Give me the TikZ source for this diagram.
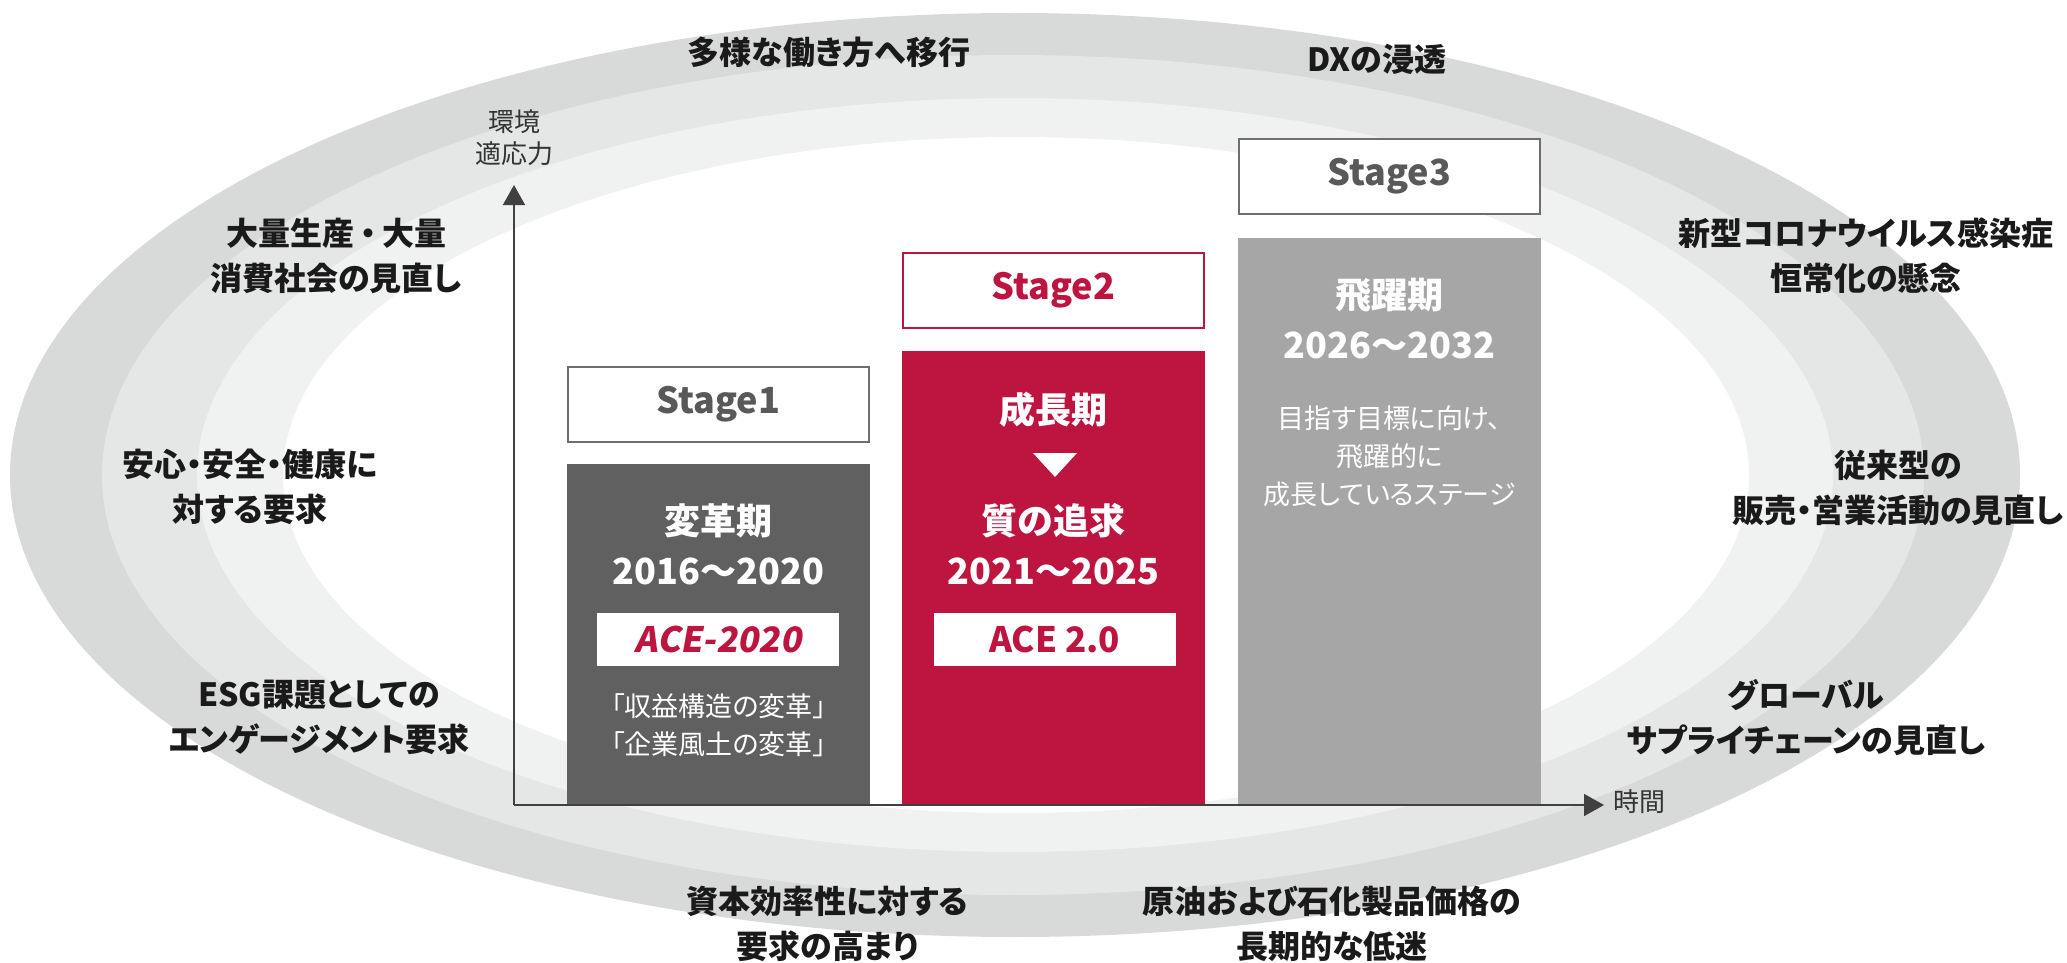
\documentclass[tikz,border=0pt]{standalone}
\usepackage{fontspec}
\newfontfamily\jp{Noto Sans CJK JP}[RawFeature={+palt}]
\newfontfamily\jpsl{Noto Sans CJK JP}[FakeSlant=0.18]
\usetikzlibrary{arrows.meta}
\definecolor{bandA}{HTML}{D8D9D9}
\definecolor{bandB}{HTML}{E5E6E6}
\definecolor{bandC}{HTML}{F0F1F1}
\definecolor{crim}{HTML}{BE1540}
\definecolor{sAgray}{HTML}{606060}
\definecolor{sCgray}{HTML}{A6A6A6}
\definecolor{boxgray}{HTML}{6E6E6E}
\definecolor{stagegray}{HTML}{595959}
\definecolor{axisgray}{HTML}{404040}
\definecolor{lblblack}{HTML}{1A1A1A}
\definecolor{axlbl}{HTML}{333333}
\tikzset{
  outerlbl/.style={font=\jp\bfseries\fontsize{16}{22.5}\selectfont, align=center, inner sep=0pt, text=lblblack},
  stagebox/.style={draw=boxgray, line width=1.2pt, fill=white, minimum width=150.3pt, minimum height=37.3pt, inner sep=0pt, text=stagegray, font=\jp\bfseries\fontsize{18}{20}\selectfont},
  barbox/.style={draw=none, inner sep=0pt, outer sep=0pt, minimum width=151.5pt},
  bigtext/.style={font=\jp\bfseries\fontsize{18}{25}\selectfont, text=white, align=center, inner sep=0pt},
  smalltext/.style={font=\jp\fontsize{13.5}{19}\selectfont, text=white, align=center, inner sep=0pt},
  acebox/.style={fill=white, draw=none, minimum width=121pt, minimum height=26.5pt, inner sep=0pt, text=crim},
  axisline/.style={draw=axisgray, line width=0.75pt, -{Triangle[length=10pt,width=11pt]}},
  axislbl/.style={font=\jp\fontsize{13}{16}\selectfont, text=axlbl, align=center, inner sep=0pt}
}
\begin{document}
\begin{tikzpicture}[x=0.5pt,y=-0.5pt]
\useasboundingbox (0,0) rectangle (2067,963);
% concentric bands
\fill[bandA] (1015,475) ellipse [x radius=502.5pt, y radius=231pt];
\fill[bandB] (1013,475) ellipse [x radius=455.5pt, y radius=210pt];
\fill[bandC] (1015,475) ellipse [x radius=409pt, y radius=188.5pt];
\fill[white] (1016,475) ellipse [x radius=366.5pt, y radius=169pt];

% bars
\node[barbox, fill=sAgray, minimum height=170.5pt] (barA) at (718.5,634.5) {};
\node[barbox, fill=crim, minimum height=227pt] (barB) at (1053.5,578) {};
\node[barbox, fill=sCgray, minimum height=283.5pt] (barC) at (1389.5,521.5) {};

% stage boxes
\node[stagebox] (stA) at (718.5,404.5) {Stage1};
\node[stagebox, draw=crim, text=crim] (stB) at (1053.5,290.5) {Stage2};
\node[stagebox] (stC) at (1389.5,176.5) {Stage3};

% stage 1 texts
\node[bigtext] (tA1) at (718.5,544.5) {変革期\\2016～2020};
\node[acebox, font=\jpsl\bfseries\fontsize{17.5}{20}\selectfont] (aceA) at (718,639.5) {ACE-2020};
\node[smalltext] (tA2) at (718.5,725) {「収益構造の変革」\\「企業風土の変革」};

% stage 2 texts
\node[bigtext] (tB0) at (1053.5,410) {成長期};
\fill[white] (1033,453) -- (1077,453) -- (1055,477) -- cycle;
\node[bigtext] (tB1) at (1053.5,544.5) {質の追求\\2021～2025};
\node[acebox, font=\jp\bfseries\fontsize{17.5}{20}\selectfont] (aceB) at (1054.5,639.5) {ACE 2.0};

% stage 3 texts
\node[bigtext] (tC1) at (1389.5,319) {飛躍期\\2026～2032};
\node[smalltext] (tC2) at (1389.5,456) {目指す目標に向け、\\飛躍的に\\成長しているステージ};

% axes
\coordinate (O) at (514,805);
\coordinate (ytip) at (514,185);
\coordinate (xtip) at (1604,805);
\draw[axisline] (O) -- (ytip);
\draw[axisline] (O) -- (xtip);
\node[axislbl] (ylab) at (514,138) {環境\\適応力};
\node[axislbl, anchor=west] (xlab) at (1613,802) {時間};

% outer labels
\node[outerlbl] (L1) at (829,52) {多様な働き方へ移行};
\node[outerlbl] (L2) at (1377,59) {DXの浸透};
\node[outerlbl] (L3) at (336,255.5) {大量生産\hspace{3pt}・\hspace{3pt}大量\\消費社会の見直し};
\node[outerlbl] (L4) at (1866,255.5) {新型コロナウイルス感染症\\恒常化の懸念};
\node[outerlbl] (L5) at (250,486.5) {安心・安全・健康に\\対する要求};
\node[outerlbl] (L6) at (1898,487.5) {従来型の\\販売・営業活動の見直し};
\node[outerlbl] (L7) at (319,717.5) {ESG課題としての\\エンゲージメント要求};
\node[outerlbl] (L8) at (1806,718) {グローバル\\サプライチェーンの見直し};
\node[outerlbl] (L9) at (827.5,924) {資本効率性に対する\\要求の高まり};
\node[outerlbl] (L10) at (1332,924) {原油および石化製品価格の\\長期的な低迷};
\end{tikzpicture}
\end{document}
